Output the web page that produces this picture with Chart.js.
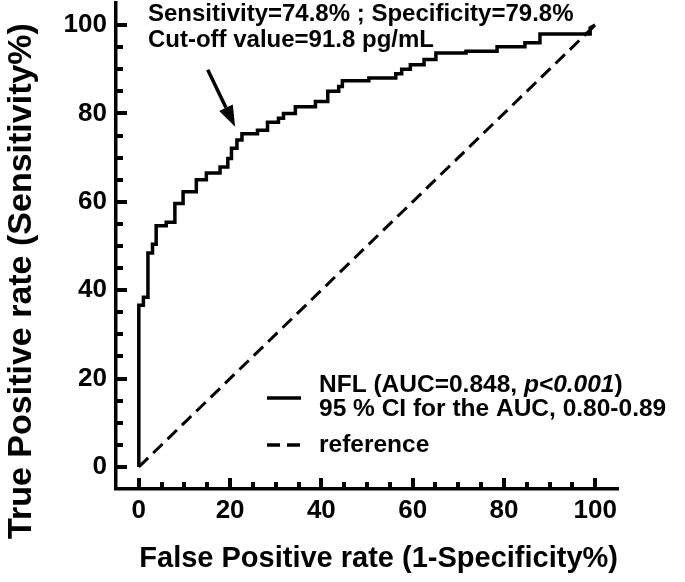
<!DOCTYPE html>
<html><head><meta charset="utf-8">
<script src="https://cdn.jsdelivr.net/npm/chart.js@4/dist/chart.umd.min.js"></script>
<style>html,body{margin:0;padding:0;background:#fff;}</style>
</head><body>
<canvas id="c" width="685" height="582"></canvas>
<script>
// ---- data ----
const fpr = [0, 0, 1, 1, 2, 2, 3, 3, 3.8, 3.8, 6, 6, 7.9, 7.9, 9.7, 9.7, 12.6, 12.6, 14.8, 14.8,
  17.8, 17.8, 19.5, 19.5, 20.3, 20.3, 21.5, 21.5, 22.6, 22.6, 26, 26, 28.2, 28.2, 30.6, 30.6,
  31.7, 31.7, 34.3, 34.3, 38.7, 38.7, 41.4, 41.4, 43.8, 43.8, 44.6, 44.6, 50.4, 50.4, 56.3, 56.3,
  57.6, 57.6, 59.5, 59.5, 62.5, 62.5, 65.1, 65.1, 71.7, 71.7, 78.5, 78.5, 84.6, 84.6, 87.9, 87.9,
  98.9, 98.9, 100];
const tpr = [0, 36.6, 36.6, 38.4, 38.4, 48.4, 48.4, 50.4, 50.4, 54.6, 54.6, 55.4, 55.4, 59.6, 59.6,
  62.3, 62.3, 65, 65, 66.5, 66.5, 67.9, 67.9, 69.8, 69.8, 72.1, 72.1, 74, 74, 75.4, 75.4, 76.2,
  76.2, 78, 78, 78.9, 78.9, 80, 80, 81.5, 81.5, 82.7, 82.7, 85, 85, 86.1, 86.1, 87.4, 87.4, 88,
  88, 89, 89, 90, 90, 91, 91, 92.2, 92.2, 93.7, 93.7, 94.1, 94.1, 95.1, 95.1, 96, 96, 98, 98,
  99.4, 100];
const refX = [0, 100];
const refY = [0, 100];
const xTickLabels = [0, 20, 40, 60, 80, 100];
const yTickLabels = [0, 20, 40, 60, 80, 100];
const minorTicks = [0,5,10,15,20,25,30,35,40,45,50,55,60,65,70,75,80,85,90,95,100];
const xTitle = 'False Positive rate (1-Specificity%)';
const yTitle = 'True Positive rate (Sensitivity%)';
const annotLines = ['Sensitivity=74.8% ; Specificity=79.8%', 'Cut-off value=91.8 pg/mL'];
const legendLine1 = ['NFL (AUC=0.848, ', 'p<0.001', ')'];
const legendLine2 = '95 % CI for the AUC, 0.80-0.89';
const legendRef = 'reference';

const FAM = '"Liberation Sans", Arial, sans-serif';
Chart.defaults.font.family = FAM;
Chart.defaults.color = '#000';

const extras = {
  id: 'extras',
  afterDraw(chart) {
    const ctx = chart.ctx, xs = chart.scales.x, ys = chart.scales.y, ca = chart.chartArea;
    ctx.save();
    ctx.strokeStyle = '#000'; ctx.fillStyle = '#000';
    // inward tick marks
    ctx.lineWidth = 4;
    minorTicks.forEach(v => {
      const major = v % 20 === 0;
      const L = major ? 11 : 7;
      const px = Math.round(xs.getPixelForValue(v));
      ctx.beginPath(); ctx.moveTo(px, ca.bottom); ctx.lineTo(px, ca.bottom - L); ctx.stroke();
      const py = Math.round(ys.getPixelForValue(v));
      ctx.beginPath(); ctx.moveTo(ca.left, py); ctx.lineTo(ca.left + L, py); ctx.stroke();
    });
    // y axis title
    ctx.font = 'bold 34px ' + FAM;
    ctx.textAlign = 'center'; ctx.textBaseline = 'middle';
    ctx.save(); ctx.translate(22, 281); ctx.rotate(-Math.PI / 2);
    ctx.fillText(yTitle, 0, 0); ctx.restore();
    // annotation
    ctx.font = 'bold 24px ' + FAM;
    ctx.textAlign = 'left'; ctx.textBaseline = 'alphabetic';
    ctx.fillText(annotLines[0], xs.getPixelForValue(2), ys.getPixelForValue(101));
    ctx.fillText(annotLines[1], xs.getPixelForValue(2), ys.getPixelForValue(95.1));
    // arrow
    const x1 = xs.getPixelForValue(15.1), y1 = ys.getPixelForValue(89.9);
    const x2 = xs.getPixelForValue(21.1), y2 = ys.getPixelForValue(77.0);
    const ang = Math.atan2(y2 - y1, x2 - x1), hl = 21, hw = 7.5;
    const bx = x2 - hl * Math.cos(ang), by = y2 - hl * Math.sin(ang);
    ctx.lineWidth = 3.5;
    ctx.beginPath(); ctx.moveTo(x1, y1); ctx.lineTo(bx, by); ctx.stroke();
    ctx.beginPath(); ctx.moveTo(x2, y2);
    ctx.lineTo(bx + hw * Math.sin(ang), by - hw * Math.cos(ang));
    ctx.lineTo(bx - hw * Math.sin(ang), by + hw * Math.cos(ang));
    ctx.closePath(); ctx.fill();
    // legend
    const lx = 319;
    ctx.lineWidth = 3.5;
    ctx.beginPath(); ctx.moveTo(267, 398); ctx.lineTo(301, 398); ctx.stroke();
    ctx.setLineDash([13, 7]);
    ctx.beginPath(); ctx.moveTo(267, 445); ctx.lineTo(301, 445); ctx.stroke();
    ctx.setLineDash([]);
    ctx.font = 'bold 24.5px ' + FAM;
    let w = 0;
    ctx.fillText(legendLine1[0], lx, 392); w += ctx.measureText(legendLine1[0]).width;
    ctx.font = 'italic bold 24.5px ' + FAM;
    ctx.fillText(legendLine1[1], lx + w, 392); w += ctx.measureText(legendLine1[1]).width;
    ctx.font = 'bold 24.5px ' + FAM;
    ctx.fillText(legendLine1[2], lx + w, 392);
    ctx.fillText(legendLine2, lx, 416);
    ctx.fillText(legendRef, lx, 452);
    ctx.restore();
  }
};

const tickCb = list => v => (list.includes(Math.round(v)) && Math.abs(v - Math.round(v)) < 1e-6) ? String(Math.round(v)) : '';

new Chart(document.getElementById('c'), {
  type: 'line',
  data: {
    datasets: [
      { label: 'NFL', data: fpr.map((x, i) => ({ x, y: tpr[i] })), borderColor: '#000', borderWidth: 3.5,
        pointRadius: 0, tension: 0, fill: false, borderJoinStyle: 'miter' },
      { label: 'reference', data: refX.map((x, i) => ({ x, y: refY[i] })), borderColor: '#000', borderWidth: 3,
        borderDash: [13, 7], pointRadius: 0, tension: 0, fill: false }
    ]
  },
  options: {
    responsive: false, animation: false, devicePixelRatio: 1,
    layout: { padding: { top: 3, right: 67, left: 0, bottom: 0 } },
    plugins: { legend: { display: false }, tooltip: { enabled: false } },
    scales: {
      x: {
        type: 'linear', min: -5, max: 105,
        afterFit: s => { s.height = 93; s.paddingLeft = 0; s.paddingRight = 0; },
        grid: { display: false, drawTicks: false },
        border: { display: true, color: '#000', width: 3.5 },
        ticks: { stepSize: 5, autoSkip: false, maxRotation: 0, padding: 6, color: '#000',
          font: { size: 26, weight: 'bold' }, callback: tickCb(xTickLabels) },
        title: { display: true, text: xTitle, align: 'end', color: '#000',
          font: { size: 29, weight: 'bold' }, padding: { top: 0, bottom: 6 } }
      },
      y: {
        type: 'linear', min: -5, max: 105,
        afterFit: s => { s.width = 116; s.paddingTop = 0; s.paddingBottom = 0; },
        grid: { display: false, drawTicks: false },
        border: { display: true, color: '#000', width: 3.5 },
        ticks: { stepSize: 5, autoSkip: false, padding: 9, color: '#000',
          font: { size: 26, weight: 'bold' }, callback: tickCb(yTickLabels) }
      }
    }
  },
  plugins: [extras]
});
</script>
</body></html>
